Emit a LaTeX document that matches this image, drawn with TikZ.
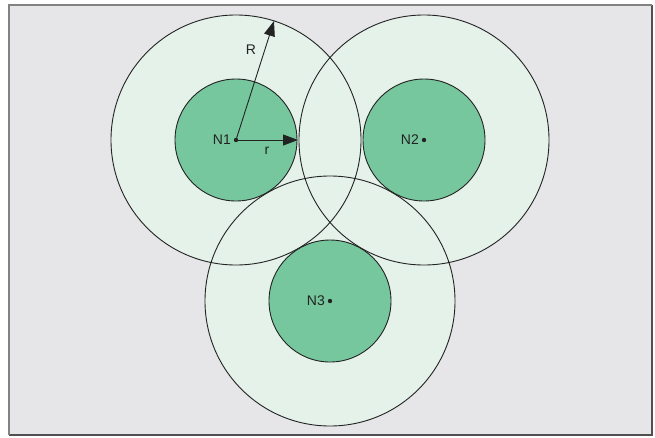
\documentclass[tikz,border=0pt]{standalone}
\usepackage{fontspec}
\setmainfont{Liberation Sans}
\usetikzlibrary{arrows.meta}
\definecolor{bggray}{RGB}{230,230,232}
\definecolor{framegray}{RGB}{130,130,130}
\definecolor{framedark}{RGB}{80,80,80}
\definecolor{biggreen}{RGB}{228,242,234}
\definecolor{smallgreen}{RGB}{118,199,158}
\definecolor{linec}{RGB}{35,35,35}
\tikzset{
  bigcirc/.style={circle, minimum size=250pt, inner sep=0pt, outer sep=0pt},
  smallcirc/.style={circle, draw=linec, line width=0.9pt, fill=smallgreen, minimum size=122pt, inner sep=0pt, outer sep=0pt},
  dotnode/.style={circle, fill=linec, minimum size=4.4pt, inner sep=0pt},
  lab/.style={font=\fontsize{14}{16}\selectfont, text=linec, inner sep=1pt},
  radarrow/.style={draw=linec, line width=0.9pt, -{Triangle[length=15pt,width=11pt]}}
}
\begin{document}
\begin{tikzpicture}[x=1pt,y=-1pt]
\useasboundingbox (0,0) rectangle (655,437);
\fill[white] (0,0) rectangle (655,437);
% frame
\fill[bggray] (9,5) rectangle (652,435);
\draw[framedark, line width=2pt] (652,5) -- (652,435) -- (9,435);
\draw[framegray, line width=2pt] (9,435) -- (9,5) -- (652,5);
% centres
\coordinate (c1) at (236,140);
\coordinate (c2) at (424,140);
\coordinate (c3) at (330,301);
% big circles: fills then outlines
\node[bigcirc, fill=biggreen] (B1) at (c1) {};
\node[bigcirc, fill=biggreen] (B2) at (c2) {};
\node[bigcirc, fill=biggreen] (B3) at (c3) {};
\node[bigcirc, draw=linec, line width=0.9pt] (B1o) at (c1) {};
\node[bigcirc, draw=linec, line width=0.9pt] (B2o) at (c2) {};
\node[bigcirc, draw=linec, line width=0.9pt] (B3o) at (c3) {};
% small circles
\node[smallcirc] (S1) at (c1) {};
\node[smallcirc] (S2) at (c2) {};
\node[smallcirc] (S3) at (c3) {};
% dots
\node[dotnode] (d1) at (c1) {};
\node[dotnode] (d2) at (c2) {};
\node[dotnode] (d3) at (c3) {};
% labels
\node[lab, anchor=east] (l1) at (232,140) {N1};
\node[lab, anchor=east] (l2) at (420,140) {N2};
\node[lab, anchor=east] (l3) at (326,301) {N3};
% radius arrows
\coordinate (Rtip) at (274,21);
\coordinate (rtip) at (298,140);
\draw[radarrow] (c1) -- (Rtip);
\draw[radarrow] (c1) -- (rtip);
\node[lab] (Rlab) at (251,50) {R};
\node[lab] (rlab) at (267,151) {r};
\end{tikzpicture}
\end{document}
